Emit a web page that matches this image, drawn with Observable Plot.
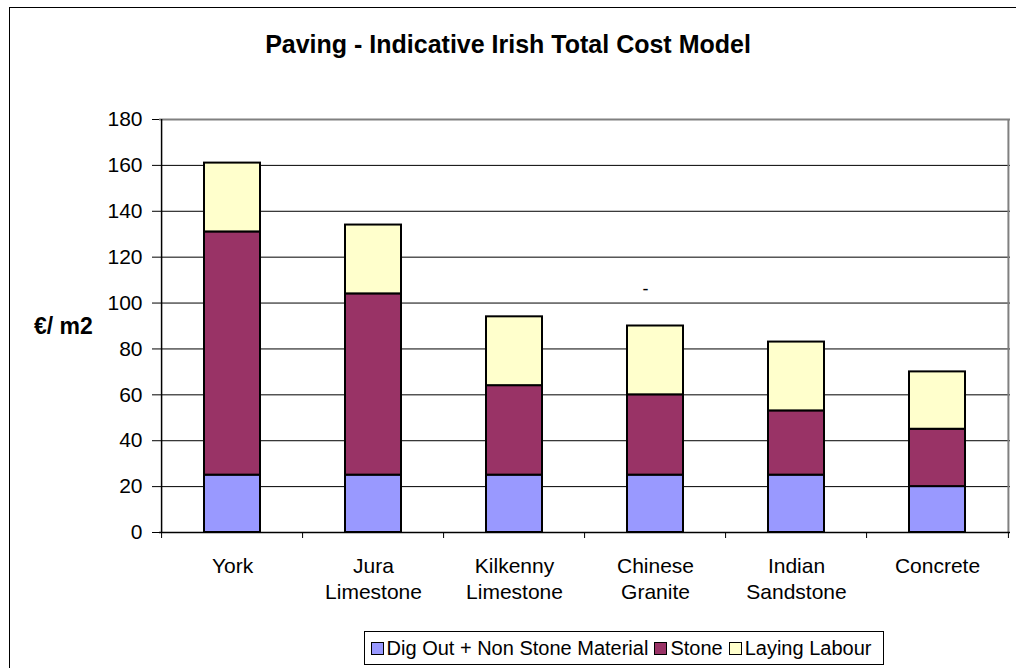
<!DOCTYPE html>
<html>
<head>
<meta charset="utf-8">
<script src="https://cdn.jsdelivr.net/npm/d3@7"></script>
<script src="https://cdn.jsdelivr.net/npm/@observablehq/plot@0.6"></script>
<style>
  html, body { margin: 0; padding: 0; background: #fff; overflow: hidden; }
  #wrap { position: relative; width: 1016px; height: 668px; overflow: hidden; font-family: "Liberation Sans", Arial, sans-serif; }
  #border { position: absolute; left: 9px; top: 7px; width: 1100px; height: 800px; border: 1px solid #000; box-sizing: border-box; }
  #title { position: absolute; left: 0; width: 1016px; top: 29px; text-align: center; font-weight: bold; font-size: 25px; line-height: 30px; color: #000; }
  #ylabel { position: absolute; left: 34px; top: 312px; font-weight: bold; font-size: 23px; line-height: 28px; color: #000; }
  #chart { position: absolute; left: 0; top: 0; }
  #legend { position: absolute; left: 364px; top: 631px; width: 520px; height: 34px; border: 1px solid #000; box-sizing: border-box; display: flex; align-items: center; justify-content: center; font-size: 20px; color: #000; white-space: nowrap; }
  #legend .item { display: flex; align-items: center; margin-right: 6px; }
  #legend .sw { width: 13px; height: 13px; border: 1px solid #000; margin-right: 3px; box-sizing: border-box; }
</style>
</head>
<body>
<div id="wrap">
  <div id="border"></div>
  <div id="chart"></div>
  <div id="title">Paving - Indicative Irish Total Cost Model</div>
  <div id="ylabel">€/ m2</div>
  <div id="legend"></div>
</div>
<script>
const categories = ["York", "Jura Limestone", "Kilkenny Limestone", "Chinese Granite", "Indian Sandstone", "Concrete"];
const tickLabels = ["York", "Jura\nLimestone", "Kilkenny\nLimestone", "Chinese\nGranite", "Indian\nSandstone", "Concrete"];
const seriesNames = ["Dig Out + Non Stone Material", "Stone", "Laying Labour"];
const seriesColors = ["#9999FF", "#993366", "#FFFFCC"];
const digOut = [25, 25, 25, 25, 25, 20];
const stone = [106, 79, 39, 35, 28, 25];
const labour = [30, 30, 30, 30, 30, 25];
const yTicks = [0, 20, 40, 60, 80, 100, 120, 140, 160, 180];
const strayLabel = [{category: "Chinese Granite", value: 106, text: "-"}];

const seriesValues = [digOut, stone, labour];
const rows = [];
seriesNames.forEach((s, si) => {
  categories.forEach((c, ci) => rows.push({category: c, series: s, value: seriesValues[si][ci]}));
});

const W = 1016, H = 668, ML = 159, MR = 6, MT = 119, MB = 136;
const step = (W - ML - MR) / categories.length;

const chart = Plot.plot({
  width: W, height: H,
  marginLeft: ML, marginRight: MR, marginTop: MT, marginBottom: MB,
  style: {fontFamily: "'Liberation Sans', Arial, sans-serif", fontSize: "21px", color: "#000", background: "transparent"},
  x: {domain: categories, paddingInner: 0.6, paddingOuter: 0.3, axis: null, label: null},
  y: {domain: [0, 180], axis: null, label: null},
  color: {domain: seriesNames, range: seriesColors},
  marks: [
    Plot.ruleY(yTicks.slice(1, -1), {stroke: "#000", strokeWidth: 1}),
    Plot.ruleY([180], {stroke: "#808080", strokeWidth: 2}),
    Plot.ruleX([categories[categories.length - 1]], {dx: step / 2, stroke: "#808080", strokeWidth: 2}),
    Plot.barY(rows, {x: "category", y: "value", fill: "series", order: seriesNames, stroke: "#000", strokeWidth: 2}),
    Plot.ruleY([0], {stroke: "#000", strokeWidth: 1.5}),
    Plot.ruleX([categories[0]], {dx: -step / 2, stroke: "#000", strokeWidth: 1.5}),
    Plot.ruleX(categories, {x: d => d, y1: 0, y2: 0, insetBottom: -6, dx: -step / 2, stroke: "#000"}),
    Plot.ruleX([categories[categories.length - 1]], {y1: 0, y2: 0, insetBottom: -6, dx: step / 2, stroke: "#000"}),
    Plot.axisY({ticks: yTicks, tickSize: 7, tickPadding: 10, fontSize: 21, anchor: "left", label: null}),
    Plot.axisX({tickSize: 0, tickPadding: 22, fontSize: 21, lineHeight: 1.25, label: null, tickFormat: d => tickLabels[categories.indexOf(d)]}),
    Plot.text(strayLabel, {x: "category", y: "value", text: "text", dx: -10, fontSize: 18})
  ]
});
document.getElementById("chart").appendChild(chart);

const legend = document.getElementById("legend");
seriesNames.forEach((s, i) => {
  const item = document.createElement("div");
  item.className = "item";
  const sw = document.createElement("div");
  sw.className = "sw";
  sw.style.background = seriesColors[i];
  const t = document.createElement("span");
  t.textContent = s;
  item.appendChild(sw);
  item.appendChild(t);
  legend.appendChild(item);
});
</script>
</body>
</html>
